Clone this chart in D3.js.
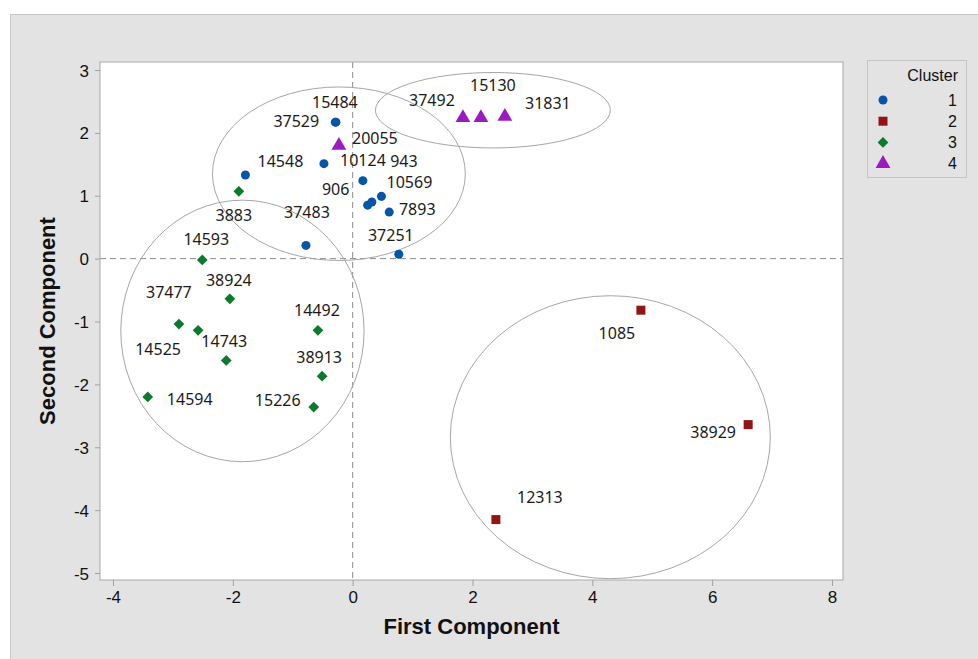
<!DOCTYPE html>
<html>
<head>
<meta charset="utf-8">
<script src="https://cdn.jsdelivr.net/npm/d3@7"></script>
<style>
  body { margin: 0; background: #fff; }
  svg { display: block; }
</style>
</head>
<body>
<div id="app"></div>
<script>
const pointIds = [
  "15484", "37529", "14548", "10124", "943", "10569", "906", "", "7893", "37483", "37251",
  "1085", "38929", "12313",
  "14593", "3883", "38924", "37477", "14525", "14743", "14594", "14492", "38913", "15226",
  "20055", "37492", "15130", "31831"
];
const firstComponent = [
  -0.28, -0.29, -1.79, -0.48, 0.17, 0.48, 0.25, 0.32, 0.61, -0.78, 0.77,
  4.81, 6.60, 2.39,
  -2.51, -1.90, -2.05, -2.90, -2.58, -2.11, -3.42, -0.58, -0.51, -0.65,
  -0.23, 1.84, 2.14, 2.54
];
const secondComponent = [
  2.17, 2.17, 1.33, 1.51, 1.24, 0.99, 0.85, 0.90, 0.74, 0.21, 0.07,
  -0.82, -2.64, -4.15,
  -0.02, 1.07, -0.64, -1.04, -1.14, -1.62, -2.20, -1.14, -1.87, -2.36,
  1.80, 2.24, 2.24, 2.26
];
const clusterOf = [
  1, 1, 1, 1, 1, 1, 1, 1, 1, 1, 1,
  2, 2, 2,
  3, 3, 3, 3, 3, 3, 3, 3, 3, 3,
  4, 4, 4, 4
];

const clusters = [1, 2, 3, 4];
const xTicks = [-4, -2, 0, 2, 4, 6, 8];
const yTicks = [-5, -4, -3, -2, -1, 0, 1, 2, 3];

// cluster ellipses, in data units
const ellipseCluster = [1, 4, 3, 2];
const ellipseCx = [-0.23, 2.34, -1.84, 4.30];
const ellipseCy = [1.35, 2.36, -1.15, -2.84];
const ellipseRx = [2.11, 1.96, 2.03, 2.67];
const ellipseRy = [1.38, 0.60, 2.08, 2.25];

// label placement relative to the marker (px)
const labelOffset = {
  "15484": [-1, -20], "37529": [-39, -1], "14548": [35, -14], "10124": [39, -4],
  "943": [41, -20], "10569": [28, -14], "906": [-32, -16], "7893": [28, -3],
  "37483": [1, -33], "37251": [-8, -19], "1085": [-24, 23], "38929": [-35, 7],
  "12313": [44, -23], "14593": [4, -21], "3883": [-5, 24], "38924": [-1, -19],
  "37477": [-10, -32], "14525": [-40, 19], "14743": [-2, -19], "14594": [42, 2],
  "14492": [-1, -20], "38913": [-3, -19], "15226": [-36, -7], "20055": [36, -7],
  "37492": [-31, -18], "15130": [12, -33], "31831": [43, -14]
};

const colors = { 1: "#0556a8", 2: "#921414", 3: "#0a7a2c", 4: "#9a1bc0" };
const symbols = {
  1: { type: d3.symbolCircle, size: 64, rotate: 0 },
  2: { type: d3.symbolSquare, size: 81, rotate: 0 },
  3: { type: d3.symbolSquare, size: 58, rotate: 45 },
  4: { type: d3.symbolTriangle, size: 95, rotate: 0 }
};

const width = 978;
const height = 659;
const plot = { left: 100, right: 843, top: 62, bottom: 580 };

const points = pointIds.map((id, i) => ({
  id: id, x: firstComponent[i], y: secondComponent[i], cluster: clusterOf[i]
}));
const ellipses = ellipseCluster.map((c, i) => ({
  cluster: c, cx: ellipseCx[i], cy: ellipseCy[i], rx: ellipseRx[i], ry: ellipseRy[i]
}));

const xScale = d3.scaleLinear().domain([-4.217, 8.183]).range([plot.left, plot.right]);
const yScale = d3.scaleLinear().domain([-5.111, 3.127]).range([plot.bottom, plot.top]);

const svg = d3.select("#app").append("svg").attr("width", width).attr("height", height);

// grey panel
svg.append("rect")
  .attr("x", 10.5).attr("y", 14.5)
  .attr("width", width).attr("height", height)
  .attr("fill", "#e3e3e3").attr("stroke", "#c6c6c6");

// plot area
svg.append("rect")
  .attr("x", plot.left).attr("y", plot.top)
  .attr("width", plot.right - plot.left).attr("height", plot.bottom - plot.top)
  .attr("fill", "#fff");

const body = svg.append("g");

// reference lines
body.append("line")
  .attr("x1", xScale(0)).attr("x2", xScale(0))
  .attr("y1", plot.top).attr("y2", plot.bottom)
  .attr("stroke", "#8c8c8c").attr("stroke-dasharray", "6,4");
body.append("line")
  .attr("x1", plot.left).attr("x2", plot.right)
  .attr("y1", yScale(0)).attr("y2", yScale(0))
  .attr("stroke", "#8c8c8c").attr("stroke-dasharray", "6,4");

body.selectAll("ellipse")
  .data(ellipses)
  .enter()
  .append("ellipse")
  .attr("cx", (d) => xScale(d.cx))
  .attr("cy", (d) => yScale(d.cy))
  .attr("rx", (d) => xScale(d.cx + d.rx) - xScale(d.cx))
  .attr("ry", (d) => yScale(d.cy - d.ry) - yScale(d.cy))
  .attr("fill", "none")
  .attr("stroke", "#a6a6a6")
  .attr("stroke-width", 1);

body.selectAll("path.mark")
  .data(points)
  .enter()
  .append("path")
  .attr("class", "mark")
  .attr("d", (d) => d3.symbol().type(symbols[d.cluster].type).size(symbols[d.cluster].size)())
  .attr("transform", (d) =>
    `translate(${xScale(d.x)},${yScale(d.y)}) rotate(${symbols[d.cluster].rotate})`)
  .attr("fill", (d) => colors[d.cluster]);

body.selectAll("text.pt")
  .data(points.filter((d) => d.id !== ""))
  .enter()
  .append("text")
  .attr("class", "pt")
  .attr("x", (d) => xScale(d.x) + labelOffset[d.id][0])
  .attr("y", (d) => yScale(d.y) + labelOffset[d.id][1])
  .attr("text-anchor", "middle")
  .attr("dominant-baseline", "central")
  .style("font-family", "'Noto Sans', 'Open Sans', sans-serif")
  .style("font-size", "16px")
  .style("fill", "#1a1a1a")
  .text((d) => d.id);

// frame
svg.append("rect")
  .attr("x", plot.left).attr("y", plot.top)
  .attr("width", plot.right - plot.left).attr("height", plot.bottom - plot.top)
  .attr("fill", "none").attr("stroke", "#a9a9a9");

const xAxis = svg.append("g")
  .attr("transform", `translate(0, ${plot.bottom})`)
  .call(d3.axisBottom(xScale).tickValues(xTicks).tickSize(6).tickPadding(5).tickFormat((d) => String(d)));
const yAxis = svg.append("g")
  .attr("transform", `translate(${plot.left}, 0)`)
  .call(d3.axisLeft(yScale).tickValues(yTicks).tickSize(5).tickPadding(6).tickFormat((d) => String(d)));

[xAxis, yAxis].forEach((ax) => {
  ax.select(".domain").remove();
  ax.selectAll(".tick line").attr("stroke", "#a0a0a0");
  ax.selectAll(".tick text")
    .style("font-family", "'Liberation Sans', Arial, sans-serif")
    .style("font-size", "17px")
    .style("fill", "#111");
});
yAxis.selectAll(".tick text").attr("dy", "0.36em");

svg.append("text")
  .attr("x", (plot.left + plot.right) / 2)
  .attr("y", 634)
  .attr("text-anchor", "middle")
  .style("font-family", "'Liberation Sans', Arial, sans-serif")
  .style("font-weight", "bold")
  .style("font-size", "22px")
  .style("fill", "#111")
  .text("First Component");

svg.append("text")
  .attr("transform", "rotate(-90)")
  .attr("x", -321)
  .attr("y", 55)
  .attr("text-anchor", "middle")
  .style("font-family", "'Liberation Sans', Arial, sans-serif")
  .style("font-weight", "bold")
  .style("font-size", "22px")
  .style("fill", "#111")
  .text("Second Component");

// legend
const legend = svg.append("g").attr("transform", "translate(867, 60)");
legend.append("rect")
  .attr("x", 0.5).attr("y", 0.5)
  .attr("width", 99).attr("height", 117)
  .attr("fill", "#e3e3e3").attr("stroke", "#c4c4c4");
legend.append("text")
  .attr("x", 91).attr("y", 21)
  .attr("text-anchor", "end")
  .style("font-family", "'Liberation Sans', Arial, sans-serif")
  .style("font-size", "16px")
  .style("fill", "#111")
  .text("Cluster");

clusters.forEach((c, i) => {
  const row = legend.append("g").attr("transform", `translate(0, ${40 + i * 21.2})`);
  row.append("path")
    .attr("d", d3.symbol().type(symbols[c].type).size(symbols[c].size)())
    .attr("transform", `translate(16, 0) rotate(${symbols[c].rotate})`)
    .attr("fill", colors[c]);
  row.append("text")
    .attr("x", 90).attr("y", 0)
    .attr("dy", "0.36em")
    .attr("text-anchor", "end")
    .style("font-family", "'Liberation Sans', Arial, sans-serif")
    .style("font-size", "16px")
    .style("fill", "#111")
    .text(c);
});
</script>
</body>
</html>
